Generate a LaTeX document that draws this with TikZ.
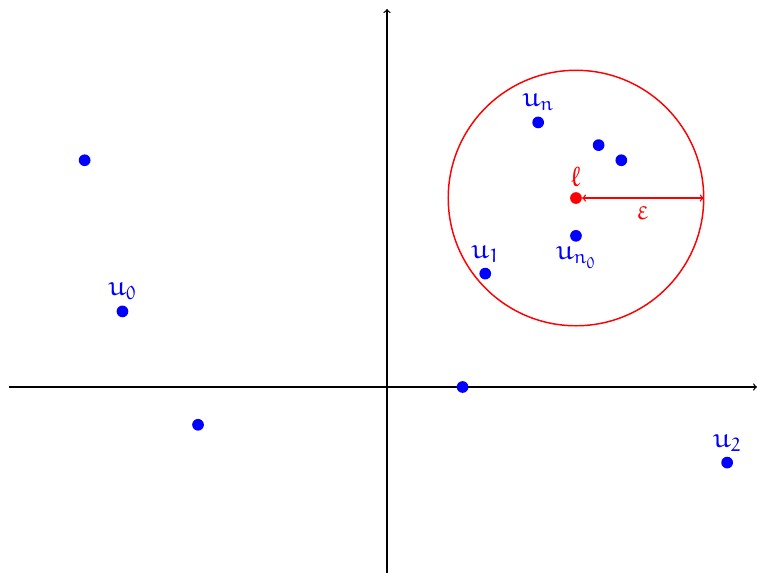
\documentclass[tikz,border=0pt]{standalone}
\usepackage{amsmath}
\usepackage{amssymb}
\DeclareMathAlphabet{\mathe}{U}{eur}{m}{n}
\DeclareSymbolFont{eulerletters}{U}{eur}{m}{n}
\DeclareMathSymbol{\eell}{\mathord}{eulerletters}{"60}
\DeclareMathSymbol{\eeps}{\mathord}{eulerletters}{"22}
\usetikzlibrary{positioning}

\begin{document}
\begin{tikzpicture}[
  x=1cm,
  y=1cm,
  every node/.style={font=\huge},
  pt/.style={circle, fill=blue, inner sep=0pt, minimum size=0.31cm},
  ptlabel/.style={text=blue, inner sep=1pt},
  axis/.style={black, line width=1pt, ->}
]
  \useasboundingbox (-10.24,-4.92) rectangle (9.79,10.24);
  \def\radius{3.38}

  % axes
  \coordinate (xmin) at (-10,0);
  \coordinate (xmax) at (9.79,0);
  \coordinate (ymin) at (0,-5);
  \coordinate (ymax) at (0,10);
  \draw[axis] (xmin) -- (xmax);
  \draw[axis] (ymin) -- (ymax);

  % the limit and its neighbourhood
  \coordinate (limc) at (5,5);
  \coordinate (epsend) at (5+\radius,5);
  \draw[red, line width=1.1pt] (limc) circle (\radius);

  % terms of the sequence
  \node[pt] (u0) at (-7,2) {};
  \node[pt] (ua) at (-8,6) {};
  \node[pt] (ub) at (-5,-1) {};
  \node[pt] (uc) at (2,0) {};
  \node[pt] (u1) at (2.6,3) {};
  \node[pt] (un) at (4,7) {};
  \node[pt] (ud) at (5.6,6.4) {};
  \node[pt] (ue) at (6.2,6) {};
  \node[pt] (un0) at (5,4) {};
  \node[pt] (u2) at (9,-2) {};
  \node[pt, fill=red] (lim) at (limc) {};

  \draw[red, line width=1pt, <->] (lim) -- (epsend)
    node[midway, below=3pt, text=red] (epslbl) {$\eeps$};

  \node[ptlabel, above=3pt of u0] (u0lbl) {$\mathe{u}_{\mathe{0}}$};
  \node[ptlabel, above=2.5pt of u1] (u1lbl) {$\mathe{u}_{\mathe{1}}$};
  \node[ptlabel, above=2.5pt of u2] (u2lbl) {$\mathe{u}_{\mathe{2}}$};
  \node[ptlabel, above=3pt of un] (unlbl) {$\mathe{u}_{\mathe{n}}$};
  \node[ptlabel, below=2.5pt of un0] (un0lbl) {$\mathe{u}_{\mathe{n}_{\mathe{0}}}$};
  \node[text=red, inner sep=1pt, above=2.5pt of lim] (limlbl) {$\eell$};
\end{tikzpicture}
\end{document}
